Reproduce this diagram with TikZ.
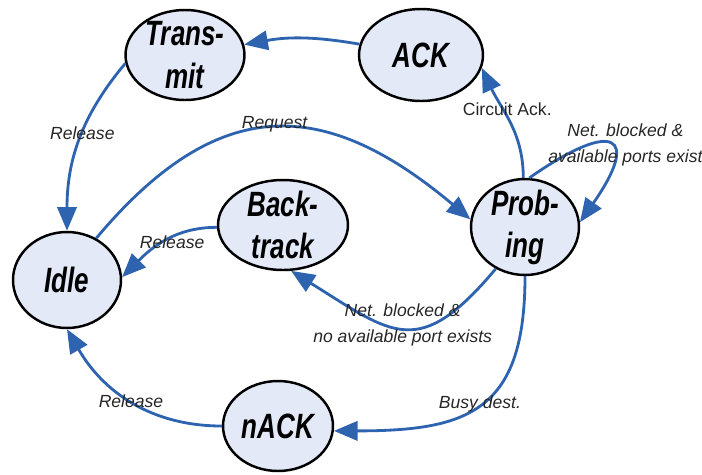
\documentclass[tikz,border=0pt]{standalone}
\usepackage{fontspec}
\setmainfont{Liberation Sans}
\newfontfamily\narrowsans[FakeStretch=0.74]{Liberation Sans}
\usetikzlibrary{arrows.meta,automata,shapes.geometric}
\definecolor{edgeblue}{RGB}{46,100,175}
\definecolor{statefill}{RGB}{227,233,246}

\begin{document}
\begin{tikzpicture}[->,>={Triangle[length=13.5pt,width=11pt]},x=0.02cm,y=-0.02cm,
    every edge/.style={draw=edgeblue,line width=1.6pt},
    lbl/.style={font=\fontsize{10}{15}\selectfont\itshape,align=center,text=black!85}]
    \tikzstyle{every state}=[ellipse,fill=statefill,draw=black,line width=1.4pt,inner sep=-10pt,
      font=\narrowsans\fontsize{20}{24}\selectfont\bfseries\itshape,align=center]
    \useasboundingbox (0,0) rectangle (702,474);

    \node[state,minimum width=2.38cm,minimum height=1.8cm]  (T) at (185,55)  {Trans-\\mit};
    \node[state,minimum width=2.48cm,minimum height=1.84cm] (A) at (421,55)  {ACK};
    \node[state,minimum width=2.16cm,minimum height=1.92cm] (P) at (525,227) {Prob-\\ing};
    \node[state,minimum width=2.6cm,minimum height=1.8cm]   (B) at (283,225) {Back-\\track};
    \node[state,minimum width=2.16cm,minimum height=1.92cm] (I) at (67,280)  {Idle};
    \node[state,minimum width=2.2cm,minimum height=1.8cm]   (N) at (278,426) {nACK};

    \path (A) edge [bend right=10] (T)
    (P.92) edge [out=90,in=-65] node[lbl,pos=0.62,xshift=2pt] {\upshape Circuit Ack.} (A.-12)
    (P.85) edge [out=35,in=55,looseness=4] node[lbl,pos=0.5,xshift=9pt] {Net. blocked \&\\available ports exist} (P.5)
    (T.188) edge [out=230,in=90] node[lbl,pos=0.45] {Release} (I.90)
    (I.55) edge [out=50,in=140,looseness=1.3] node[lbl,pos=0.5,yshift=2pt] {Request} (P.172)
    (B.182) edge [out=180,in=45] node[lbl,pos=0.42,yshift=-3pt] {Release} (I.3)
    (P.235) edge [out=230,in=-32,looseness=1.5] node[lbl,pos=0.5,yshift=2pt] {Net. blocked \&\\no available port exists} (B.-80)
    (P.270) edge [out=-90,in=0,looseness=1.4] node[lbl,pos=0.5] {Busy dest.} (N.-5)
    (N.180) edge [out=180,in=-60] node[lbl,pos=0.5] {Release} (I.-90);
\end{tikzpicture}
\end{document}
